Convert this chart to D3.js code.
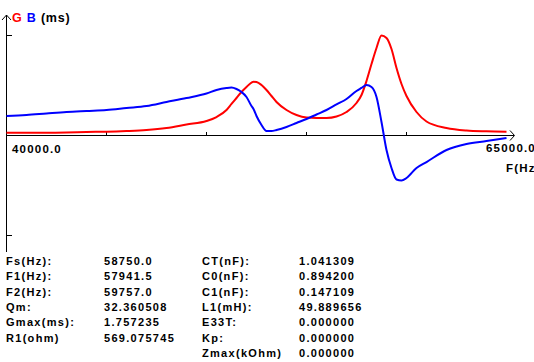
<!DOCTYPE html>
<html>
<head>
<meta charset="utf-8">
<script src="https://cdn.jsdelivr.net/npm/d3@7"></script>
<style>
  body { margin: 0; background: #fff; }
  svg { display: block; }
  text { font-family: "Liberation Sans", Arial, sans-serif; font-weight: bold; }
</style>
</head>
<body>
<script>
// frequency sweep (Hz) and measured conductance G / susceptance B (ms)
var freqs = [40000, 41000, 42000, 43000, 44000, 45000, 46000, 47000, 48000, 49000,
  50000, 50500, 51000, 51250, 51500, 51750, 52000, 52250, 52350, 52500, 52750,
  53000, 53250, 53500, 54000, 54500, 55000, 55500, 56000, 56500, 57000, 57500,
  57750, 58000, 58250, 58500, 58750, 59000, 59250, 59500, 59750, 60000, 60500,
  61000, 62000, 63000, 64000, 65000];

var gVals = [0.049, 0.049, 0.049, 0.053, 0.062, 0.067, 0.079, 0.097, 0.132, 0.193,
  0.255, 0.325, 0.448, 0.554, 0.659, 0.764, 0.852, 0.931, 0.945, 0.940, 0.887,
  0.800, 0.694, 0.589, 0.448, 0.360, 0.316, 0.308, 0.308, 0.334, 0.413, 0.571,
  0.712, 0.958, 1.256, 1.538, 1.757, 1.713, 1.520, 1.186, 0.905, 0.694, 0.413,
  0.246, 0.132, 0.088, 0.074, 0.067];

var bVals = [0.343, 0.360, 0.387, 0.413, 0.431, 0.448, 0.483, 0.518, 0.589, 0.659,
  0.738, 0.800, 0.835, 0.843, 0.817, 0.764, 0.677, 0.518, 0.466, 0.343, 0.185,
  0.079, 0.079, 0.097, 0.149, 0.220, 0.290, 0.369, 0.448, 0.545, 0.641, 0.782,
  0.835, 0.887, 0.852, 0.677, 0.237, -0.255, -0.571, -0.773, -0.791, -0.747, -0.571,
  -0.466, -0.255, -0.149, -0.097, -0.044];

var xTicks = [45000, 50000, 55000, 60000];
var gMax = 1.757235;

// result table, two label/value column pairs
var labels1 = ["Fs(Hz):", "F1(Hz):", "F2(Hz):", "Qm:", "Gmax(ms):", "R1(ohm)"];
var values1 = ["58750.0", "57941.5", "59757.0", "32.360508", "1.757235", "569.075745"];
var labels2 = ["CT(nF):", "C0(nF):", "C1(nF):", "L1(mH):", "E33T:", "Kp:", "Zmax(kOhm)"];
var values2 = ["1.041309", "0.894200", "0.147109", "49.889656", "0.000000", "0.000000", "0.000000"];

var width = 534, height = 362;

var svg = d3.select("body").append("svg")
    .attr("width", width)
    .attr("height", height);

var x = d3.scaleLinear().domain([40000, 65000]).range([6.5, 506.5]);
var y = d3.scaleLinear().domain([-gMax, gMax]).range([235.5, 35.5]);

var axes = svg.append("g")
    .attr("stroke", "#000")
    .attr("fill", "none")
    .attr("shape-rendering", "crispEdges");

// vertical axis with arrow head
axes.append("line")
    .attr("x1", x(40000)).attr("x2", x(40000))
    .attr("y1", 15).attr("y2", 252);
axes.append("path")
    .attr("shape-rendering", "auto")
    .attr("d", "M2," + 20 + "L" + x(40000) + ",15L11,20");
[gMax, -gMax].forEach(function(v) {
  axes.append("line")
      .attr("x1", x(40000)).attr("x2", x(40000) + 5)
      .attr("y1", y(v)).attr("y2", y(v));
});

// horizontal axis with arrow head
axes.append("line")
    .attr("x1", x(40000)).attr("x2", 514)
    .attr("y1", y(0)).attr("y2", y(0));
axes.append("path")
    .attr("shape-rendering", "auto")
    .attr("d", "M510," + (y(0) - 5) + "L514.5," + y(0) + "L510," + (y(0) + 5));
axes.selectAll(".xt")
    .data(xTicks)
    .enter()
    .append("line")
      .attr("x1", function(d) { return x(d); })
      .attr("x2", function(d) { return x(d); })
      .attr("y1", y(0) - 4)
      .attr("y2", y(0));

// curves
function drawCurve(vals, color) {
  var line = d3.line()
      .curve(d3.curveMonotoneX)
      .x(function(d, i) { return x(freqs[i]); })
      .y(function(d) { return y(d); });
  svg.append("path")
      .datum(vals)
      .attr("d", line)
      .attr("fill", "none")
      .attr("stroke", color)
      .attr("stroke-width", 2)
      .attr("stroke-linejoin", "round");
}
drawCurve(gVals, "#ff0000");
drawCurve(bVals, "#0000ff");

// header text
var head = svg.append("text")
    .attr("x", 12).attr("y", 22)
    .style("font-size", "12.5px")
    .style("letter-spacing", "0.8px");
head.append("tspan").attr("fill", "#ff0000").text("G ");
head.append("tspan").attr("fill", "#0000ff").text("B ");
head.append("tspan").attr("fill", "#000").text("(ms)");

// axis end labels (the right ones run past the window edge, as in the original)
var lab = svg.append("g")
    .style("font-size", "11.5px")
    .style("letter-spacing", "1.2px");
lab.append("text").attr("x", 12).attr("y", 153).text(d3.format(".1f")(x.domain()[0]));
lab.append("text").attr("x", 486).attr("y", 152).text(d3.format(".1f")(x.domain()[1]));
lab.append("text").attr("x", 506).attr("y", 172).text("F(Hz)");

// results table
var table = svg.append("g")
    .style("font-size", "11px")
    .style("letter-spacing", "1.3px");
function column(list, xpos) {
  table.selectAll(null)
    .data(list)
    .enter()
    .append("text")
      .attr("x", xpos)
      .attr("y", function(d, i) { return 265 + i * 15.33; })
      .text(function(d) { return d; });
}
column(labels1, 6);
column(values1, 104);
column(labels2, 202);
column(values2, 299);
</script>
</body>
</html>
